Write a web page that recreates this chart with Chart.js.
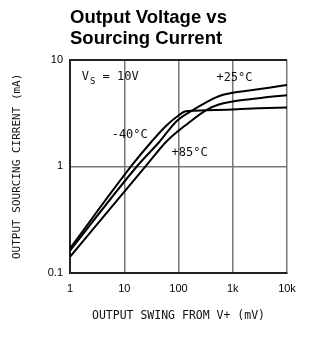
<!DOCTYPE html>
<html>
<head>
<meta charset="utf-8">
<script src="https://cdn.jsdelivr.net/npm/chart.js@4"></script>
<style>
  body { margin: 0; background: #fff; }
  #wrap { width: 312px; height: 339px; }
</style>
</head>
<body>
<div id="wrap"><canvas id="myChart"></canvas></div>
<script>
// curves (mV swing, mA current)
const swingM40 = [1, 14, 32, 60, 100, 135, 200, 500, 1000, 3000, 10000];
const currentM40 = [0.17, 1.03, 1.71, 2.42, 3.0, 3.28, 3.33, 3.37, 3.42, 3.5, 3.56];
const swingP25 = [1, 18, 45, 92, 187, 306, 538, 1000, 2000, 5000, 10000];
const currentP25 = [0.162, 1.03, 1.71, 2.65, 3.39, 3.92, 4.52, 4.9, 5.15, 5.5, 5.8];
const swingP85 = [1, 26, 60, 151, 329, 538, 1000, 1670, 3000, 5000, 10000];
const currentP85 = [0.142, 1.03, 1.71, 2.54, 3.39, 3.78, 4.06, 4.21, 4.35, 4.5, 4.64];

const xTickValues = [1, 10, 100, 1000, 10000];
const xTickLabels = ['1', '10', '100', '1k', '10k'];
const yTickValues = [0.1, 1, 10];
const yTickLabels = ['0.1', '1', '10'];

// curve labels, anchored in data units
const noteTexts = ['+25°C', '-40°C', '+85°C'];
const noteSwing = [500, 5.86, 74.6];
const noteCurrent = [6.25, 1.84, 1.24];

const toPoints = (xs, ys) => xs.map((v, i) => ({ x: v, y: ys[i] }));
const mono = '"DejaVu Sans Mono", "Liberation Mono", monospace';

const notes = {
    id: 'notes',
    afterDatasetsDraw(chart) {
        const { ctx, scales: { x, y } } = chart;
        ctx.save();
        ctx.fillStyle = '#111';
        ctx.textBaseline = 'alphabetic';
        ctx.font = '12px ' + mono;
        noteTexts.forEach((t, i) => {
            ctx.fillText(t, x.getPixelForValue(noteSwing[i]), y.getPixelForValue(noteCurrent[i]));
        });
        // V_S = 10V with subscript
        let px = x.getPixelForValue(1.64);
        const py = y.getPixelForValue(6.49);
        ctx.fillText('V', px, py);
        px += ctx.measureText('V').width + 1;
        ctx.font = '9px ' + mono;
        ctx.fillText('S', px, py + 4);
        px += ctx.measureText('S').width;
        ctx.font = '12px ' + mono;
        ctx.fillText(' = 10V', px, py);
        ctx.restore();
    }
};

const line = (pts) => ({
    data: pts,
    borderColor: '#000',
    borderWidth: 2,
    pointRadius: 0,
    cubicInterpolationMode: 'monotone',
    fill: false
});

const ctx = document.getElementById('myChart').getContext('2d');

const myChart = new Chart(ctx, {
    type: 'line',
    data: {
        datasets: [
            line(toPoints(swingP25, currentP25)),
            line(toPoints(swingM40, currentM40)),
            line(toPoints(swingP85, currentP85))
        ]
    },
    options: {
        responsive: true,
        maintainAspectRatio: false,
        animation: false,
        events: [],
        layout: { padding: { left: 0, right: 25, top: 0, bottom: 0 } },
        plugins: {
            legend: { display: false },
            tooltip: { enabled: false },
            title: {
                display: true,
                text: ['Output Voltage vs', 'Sourcing Current'],
                align: 'start',
                fullSize: false,
                color: '#000',
                font: { family: '"Liberation Sans", Arial, sans-serif', size: 18.5, weight: 'bold', lineHeight: 1.1 },
                padding: { top: 8, bottom: 11 }
            }
        },
        scales: {
            x: {
                type: 'logarithmic',
                min: 1,
                max: 10000,
                afterBuildTicks: s => { s.ticks = xTickValues.map(v => ({ value: v })); },
                afterFit: s => { s.height = 66; },
                ticks: {
                    autoSkip: false,
                    maxRotation: 0,
                    padding: 9,
                    color: '#000',
                    font: { family: '"Liberation Sans", Arial, sans-serif', size: 11 },
                    callback: v => xTickLabels[xTickValues.indexOf(v)]
                },
                grid: { color: '#777', lineWidth: 1.5, drawTicks: false },
                border: { color: '#222', width: 2 },
                title: {
                    display: true,
                    text: 'OUTPUT SWING FROM V+ (mV)',
                    color: '#111',
                    font: { family: mono, size: 11.5 },
                    padding: { top: 4, bottom: 16 }
                }
            },
            y: {
                type: 'logarithmic',
                min: 0.1,
                max: 10,
                afterBuildTicks: s => { s.ticks = yTickValues.map(v => ({ value: v })); },
                afterFit: s => { s.width = 70; },
                ticks: {
                    autoSkip: false,
                    padding: 7,
                    color: '#000',
                    font: { family: '"Liberation Sans", Arial, sans-serif', size: 11 },
                    callback: v => yTickLabels[yTickValues.indexOf(v)]
                },
                grid: {
                    color: c => (c.tick && c.tick.value === 10 ? '#222' : '#777'),
                    lineWidth: c => (c.tick && c.tick.value === 10 ? 2 : 1.5),
                    drawTicks: false
                },
                border: { color: '#222', width: 2 },
                title: {
                    display: true,
                    text: 'OUTPUT SOURCING CIRRENT (mA)',
                    color: '#111',
                    font: { family: mono, size: 11 },
                    padding: { top: 11, bottom: 0 }
                }
            }
        }
    },
    plugins: [notes]
});
</script>
</body>
</html>
